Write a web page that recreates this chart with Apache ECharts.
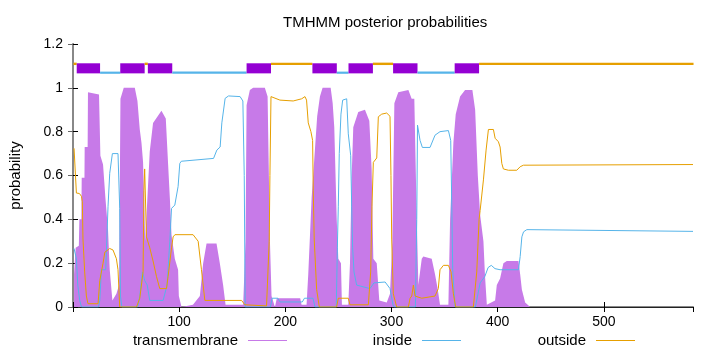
<!DOCTYPE html>
<html>
<head>
<meta charset="utf-8">
<script src="https://cdn.jsdelivr.net/npm/echarts@6/dist/echarts.min.js"></script>
<style>
  html, body { margin: 0; padding: 0; background: #fff; }
  #chart { width: 720px; height: 352px; }
</style>
</head>
<body>
<div id="chart"></div>
<script>
// posterior probabilities, [residue, probability]
var tmProb = [
    [1, 0.15], [2.5, 0.27], [5.5, 0.28], [6, 0.40], [7.9, 0.40], [8.2, 0.59], [10.8, 0.59], [11, 0.73], [13.8, 0.73],
    [14.1, 0.98], [24.5, 0.97], [25.8, 0.69], [28.3, 0.65], [30.5, 0.5], [33, 0.35], [34.6, 0.17], [37.1, 0.03],
    [40.9, 0.06], [43.4, 0.1], [44.7, 0.95], [47.8, 1.0], [58.2, 1.0], [60.7, 0.94], [62.9, 0.81], [64.5, 0.75],
    [66, 0.66], [68, 0.3], [70.1, 0.5], [72.3, 0.71], [75.4, 0.84], [83.3, 0.895], [87.4, 0.86], [89.6, 0.65],
    [91.2, 0.5], [92.8, 0.33], [95.9, 0.22], [99, 0.17], [99.7, 0.05], [102.2, 0.0], [113, 0.01], [119.5, 0.05],
    [122.6, 0.2], [125.8, 0.29], [135.2, 0.29], [138.3, 0.2], [141.4, 0.1], [143.7, 0.01], [160.3, 0.01],
    [162.5, 0.3], [163.5, 0.92], [166.6, 0.99], [169.7, 1.0], [180.7, 1.0], [183.3, 0.96], [185.5, 0.3],
    [187, 0.05], [190.2, 0.0], [192, 0.04], [214, 0.04], [215.3, 0.01], [220, 0.01], [221.6, 0.15], [224.8, 0.5],
    [227.9, 0.72], [230, 0.87], [232.6, 0.96], [235.1, 1.0], [242.7, 1.0], [244.6, 0.93], [246.1, 0.82],
    [248.4, 0.4], [249.9, 0.22], [252.4, 0.2], [253.3, 0.01], [259.3, 0.01], [260.9, 0.2], [262.5, 0.6],
    [264, 0.82], [268.7, 0.89], [275, 0.9], [279.1, 0.85], [281.3, 0.63], [282.9, 0.22], [286.1, 0.2],
    [288.5, 0.03], [295.5, 0.02], [298.6, 0.06], [300.8, 0.3], [302.7, 0.93], [306.4, 0.98], [315.9, 0.99],
    [319, 0.95], [321.5, 0.95], [323.8, 0.4], [325.3, 0.1], [328.5, 0.22], [330, 0.23], [337.9, 0.22],
    [341, 0.15], [343.6, 0.08], [345.7, 0.01], [353.6, 0.01], [355.2, 0.4], [358.3, 0.75], [360.5, 0.88],
    [364.6, 0.96], [369.3, 0.99], [376.2, 0.99], [378.8, 0.9], [381.3, 0.6], [383.5, 0.42], [386.6, 0.3],
    [388, 0.15], [389.8, 0.01], [397.6, 0.03], [399.2, 0.1], [402.3, 0.13], [405.4, 0.2], [408.6, 0.21],
    [419.6, 0.21], [421.2, 0.15], [422.8, 0.08], [425.9, 0.02], [430.6, 0.0], [584, 0.0]
];
var insideProb = [
    [1, 0.267], [3.2, 0.22], [4.5, 0.1], [6.3, 0.03], [8, 0.0], [24, 0.0], [25.2, 0.03], [26.8, 0.17],
    [30.8, 0.17], [33, 0.46], [34.6, 0.61], [37.1, 0.70], [42.4, 0.70], [44, 0.45], [44.7, 0.05], [46, 0.0],
    [61, 0.0], [62.9, 0.05], [65.4, 0.16], [67.6, 0.12], [69.9, 0.1], [72.3, 0.03], [84.9, 0.03], [88.6, 0.1],
    [91.2, 0.3], [92.8, 0.45], [95.9, 0.465], [99, 0.55], [100.6, 0.655], [102, 0.665], [132.4, 0.678],
    [135.5, 0.716], [138.6, 0.73], [140.2, 0.84], [143.3, 0.952], [146.5, 0.963], [157.4, 0.96], [160, 0.94],
    [161.3, 0.6], [162.2, 0.0], [186, 0.0], [187.5, 0.04], [193, 0.04], [195, 0.023], [216, 0.023], [218, 0.04],
    [226, 0.04], [228, 0.0], [248, 0.0], [249, 0.27], [249.9, 0.46], [250.8, 0.70], [252.4, 0.88], [254, 0.944],
    [257.8, 0.95], [259.3, 0.79], [261.6, 0.69], [262.5, 0.46], [263.4, 0.27], [264.7, 0.16], [267.2, 0.1],
    [279.7, 0.084], [283.5, 0.11], [294, 0.114], [298.6, 0.084], [301.4, 0.01], [302.5, 0.0], [322.5, 0.0],
    [323.8, 0.4], [324.5, 0.83], [326.9, 0.76], [329.1, 0.728], [336.3, 0.728], [341, 0.784], [345.7, 0.80],
    [353.6, 0.805], [355.8, 0.76], [356.8, 0.46], [357.7, 0.16], [359.9, 0.0], [379, 0.0], [383.5, 0.11],
    [388, 0.14], [391, 0.18], [394, 0.19], [397.5, 0.175], [402.3, 0.17], [419.6, 0.17], [421.2, 0.23],
    [422.8, 0.32], [424.4, 0.343], [427.5, 0.353], [584, 0.345]
];
var outsideProb = [
    [1, 0.724], [2, 0.72], [3.2, 0.52], [6, 0.518], [8, 0.505], [8.8, 0.48], [9.4, 0.31], [11, 0.16],
    [12.6, 0.05], [14.1, 0.015], [23.6, 0.015], [25.2, 0.12], [28.3, 0.2], [30, 0.25], [34.6, 0.267],
    [37.7, 0.26], [40.9, 0.22], [42.4, 0.17], [44, 0.0], [59.8, 0.0], [62.9, 0.04], [66, 0.16], [66.8, 0.53],
    [67.5, 0.63], [68.5, 0.63], [69.2, 0.32], [72.3, 0.27], [75.4, 0.21], [78.6, 0.14], [81.7, 0.084],
    [88.1, 0.084], [89.6, 0.14], [92.8, 0.27], [94.3, 0.32], [96, 0.33], [113.1, 0.33], [117.9, 0.30],
    [121, 0.17], [124.2, 0.03], [158.8, 0.03], [161.9, 0.01], [182.3, 0.005], [184.8, 0.3], [185.5, 0.6],
    [186.5, 0.96], [188, 0.96], [194.9, 0.944], [207.4, 0.94], [215.4, 0.95], [218.5, 0.96], [220, 0.944],
    [221.6, 0.84], [224.1, 0.8], [225.7, 0.76], [226.3, 0.53], [227.2, 0.31], [229.5, 0.08], [232, 0.0],
    [248.3, 0.0], [249.9, 0.04], [259.3, 0.04], [260.9, 0.01], [278.2, 0.01], [280.4, 0.16], [281.6, 0.46],
    [282.9, 0.66], [286.1, 0.68], [287.6, 0.868], [290.8, 0.88], [295.5, 0.885], [298.6, 0.87], [299.5, 0.6],
    [300.2, 0.31], [301.7, 0.06], [304.9, 0.0], [315.9, 0.0], [317.5, 0.04], [319.1, 0.05], [320.6, 0.1],
    [322.2, 0.05], [328.5, 0.04], [341, 0.05], [344.1, 0.084], [345.7, 0.17], [348.9, 0.19], [353.6, 0.19],
    [356.1, 0.16], [358.3, 0.06], [360.5, 0.0], [377.1, 0.0], [380.3, 0.16], [382.5, 0.4], [383.5, 0.44],
    [386.6, 0.58], [389.1, 0.716], [391.3, 0.81], [396, 0.81], [397.6, 0.77], [400.7, 0.754], [402.3, 0.73],
    [403.9, 0.655], [405.4, 0.63], [410.1, 0.624], [418, 0.624], [421.2, 0.64], [424.3, 0.647], [584, 0.65]
];

// predicted topology along the top
var topoStart = [1, 4, 26, 45, 68, 71, 94, 164, 187, 226, 249, 260, 283, 302, 325, 360, 383];
var topoEnd = [3, 25, 44, 67, 70, 93, 163, 186, 225, 248, 259, 282, 301, 324, 359, 382, 584];
var topoType = ['o', 'M', 'i', 'M', 'o', 'M', 'i', 'M', 'o', 'M', 'i', 'M', 'o', 'M', 'i', 'M', 'o'];

var seqLen = 584;
var yTicks = [0, 0.2, 0.4, 0.6, 0.8, 1, 1.2];

var font = "'Liberation Sans', Arial, sans-serif";
var cTM = '#c77ae8', cTMbox = '#9400d3', cIn = '#56b4e9', cOut = '#e69f00';

var topoData = [];
for (var i = 0; i < topoStart.length; i++) {
    topoData.push([topoStart[i], topoEnd[i]]);
}

function renderTopo(params, api) {
    var kind = topoType[params.dataIndex];
    var s = api.value(0) - 0.5, e = api.value(1) + 0.5;
    var top, bottom, color;
    if (kind == 'M') { top = 1.112; bottom = 1.066; color = cTMbox; }
    else if (kind == 'i') { top = 1.074; bottom = 1.064; color = cIn; }
    else { top = 1.115; bottom = 1.104; color = cOut; }
    var p1 = api.coord([s, top]);
    var p2 = api.coord([e, bottom]);
    return {
        type: 'rect',
        shape: { x: p1[0], y: p1[1], width: p2[0] - p1[0], height: p2[1] - p1[1] },
        style: { fill: color }
    };
}

var myChart = echarts.init(document.getElementById('chart'), null, { renderer: 'canvas' });

var legendBase = {
    orient: 'horizontal',
    align: 'right',
    top: 333,
    padding: 0,
    icon: 'rect',
    itemWidth: 39,
    itemHeight: 1,
    textStyle: { fontFamily: font, fontSize: 15, color: '#000', padding: [0, 5, 0, 0] }
};

var option = {
    animation: false,
    title: {
        text: 'TMHMM posterior probabilities',
        left: 283,
        top: 15,
        padding: 0,
        textStyle: { fontFamily: font, fontSize: 15, fontWeight: 'normal', color: '#000' }
    },
    legend: [
        Object.assign({}, legendBase, { data: ['transmembrane'], right: 433 }),
        Object.assign({}, legendBase, { data: ['inside'], right: 259 }),
        Object.assign({}, legendBase, { data: ['outside'], right: 85 })
    ],
    grid: { left: 73, right: 27, top: 44, bottom: 45 },
    xAxis: [
        {
            type: 'value', min: 0, max: seqLen, interval: 100, position: 'bottom',
            axisLine: { lineStyle: { color: '#888', width: 2 } },
            axisTick: { inside: true, length: 5, lineStyle: { color: '#000' } },
            axisLabel: {
                fontFamily: font, fontSize: 14, color: '#000', margin: 8, showMaxLabel: false,
                formatter: function (v) { return v == 0 ? '' : v; }
            },
            splitLine: { show: false }
        },
        {
            type: 'value', min: 0, max: seqLen, interval: 100, position: 'top',
            axisLine: { lineStyle: { color: '#222', width: 1 } },
            axisTick: { inside: true, length: 5, lineStyle: { color: '#000' } },
            axisLabel: { show: false },
            splitLine: { show: false }
        }
    ],
    yAxis: [
        {
            type: 'value', min: yTicks[0], max: yTicks[yTicks.length - 1], interval: 0.2, position: 'left',
            name: 'probability', nameLocation: 'middle', nameGap: 50,
            nameTextStyle: { fontFamily: font, fontSize: 15, color: '#000' },
            axisLine: { show: true, lineStyle: { color: '#222', width: 1 } },
            axisTick: { show: true, inside: true, length: 5, lineStyle: { color: '#000' } },
            axisLabel: { fontFamily: font, fontSize: 14, color: '#000', margin: 10 },
            splitLine: { show: false }
        },
        {
            type: 'value', min: yTicks[0], max: yTicks[yTicks.length - 1], interval: 0.2, position: 'right',
            axisLine: { show: true, lineStyle: { color: '#888', width: 2 } },
            axisTick: { show: true, inside: true, length: 5, lineStyle: { color: '#666' } },
            axisLabel: { show: false },
            splitLine: { show: false }
        }
    ],
    series: [
        {
            name: 'transmembrane', type: 'line', data: tmProb,
            color: cTM, symbol: 'none', showSymbol: false,
            lineStyle: { width: 0 },
            areaStyle: { color: cTM, opacity: 1 }
        },
        {
            name: 'inside', type: 'line', data: insideProb,
            color: cIn, symbol: 'none', showSymbol: false,
            lineStyle: { width: 1, color: cIn }
        },
        {
            name: 'outside', type: 'line', data: outsideProb,
            color: cOut, symbol: 'none', showSymbol: false,
            lineStyle: { width: 1, color: cOut }
        },
        {
            name: 'topology', type: 'custom', data: topoData,
            renderItem: renderTopo,
            encode: { x: [0, 1] },
            silent: true
        }
    ]
};

myChart.setOption(option);
</script>
</body>
</html>
